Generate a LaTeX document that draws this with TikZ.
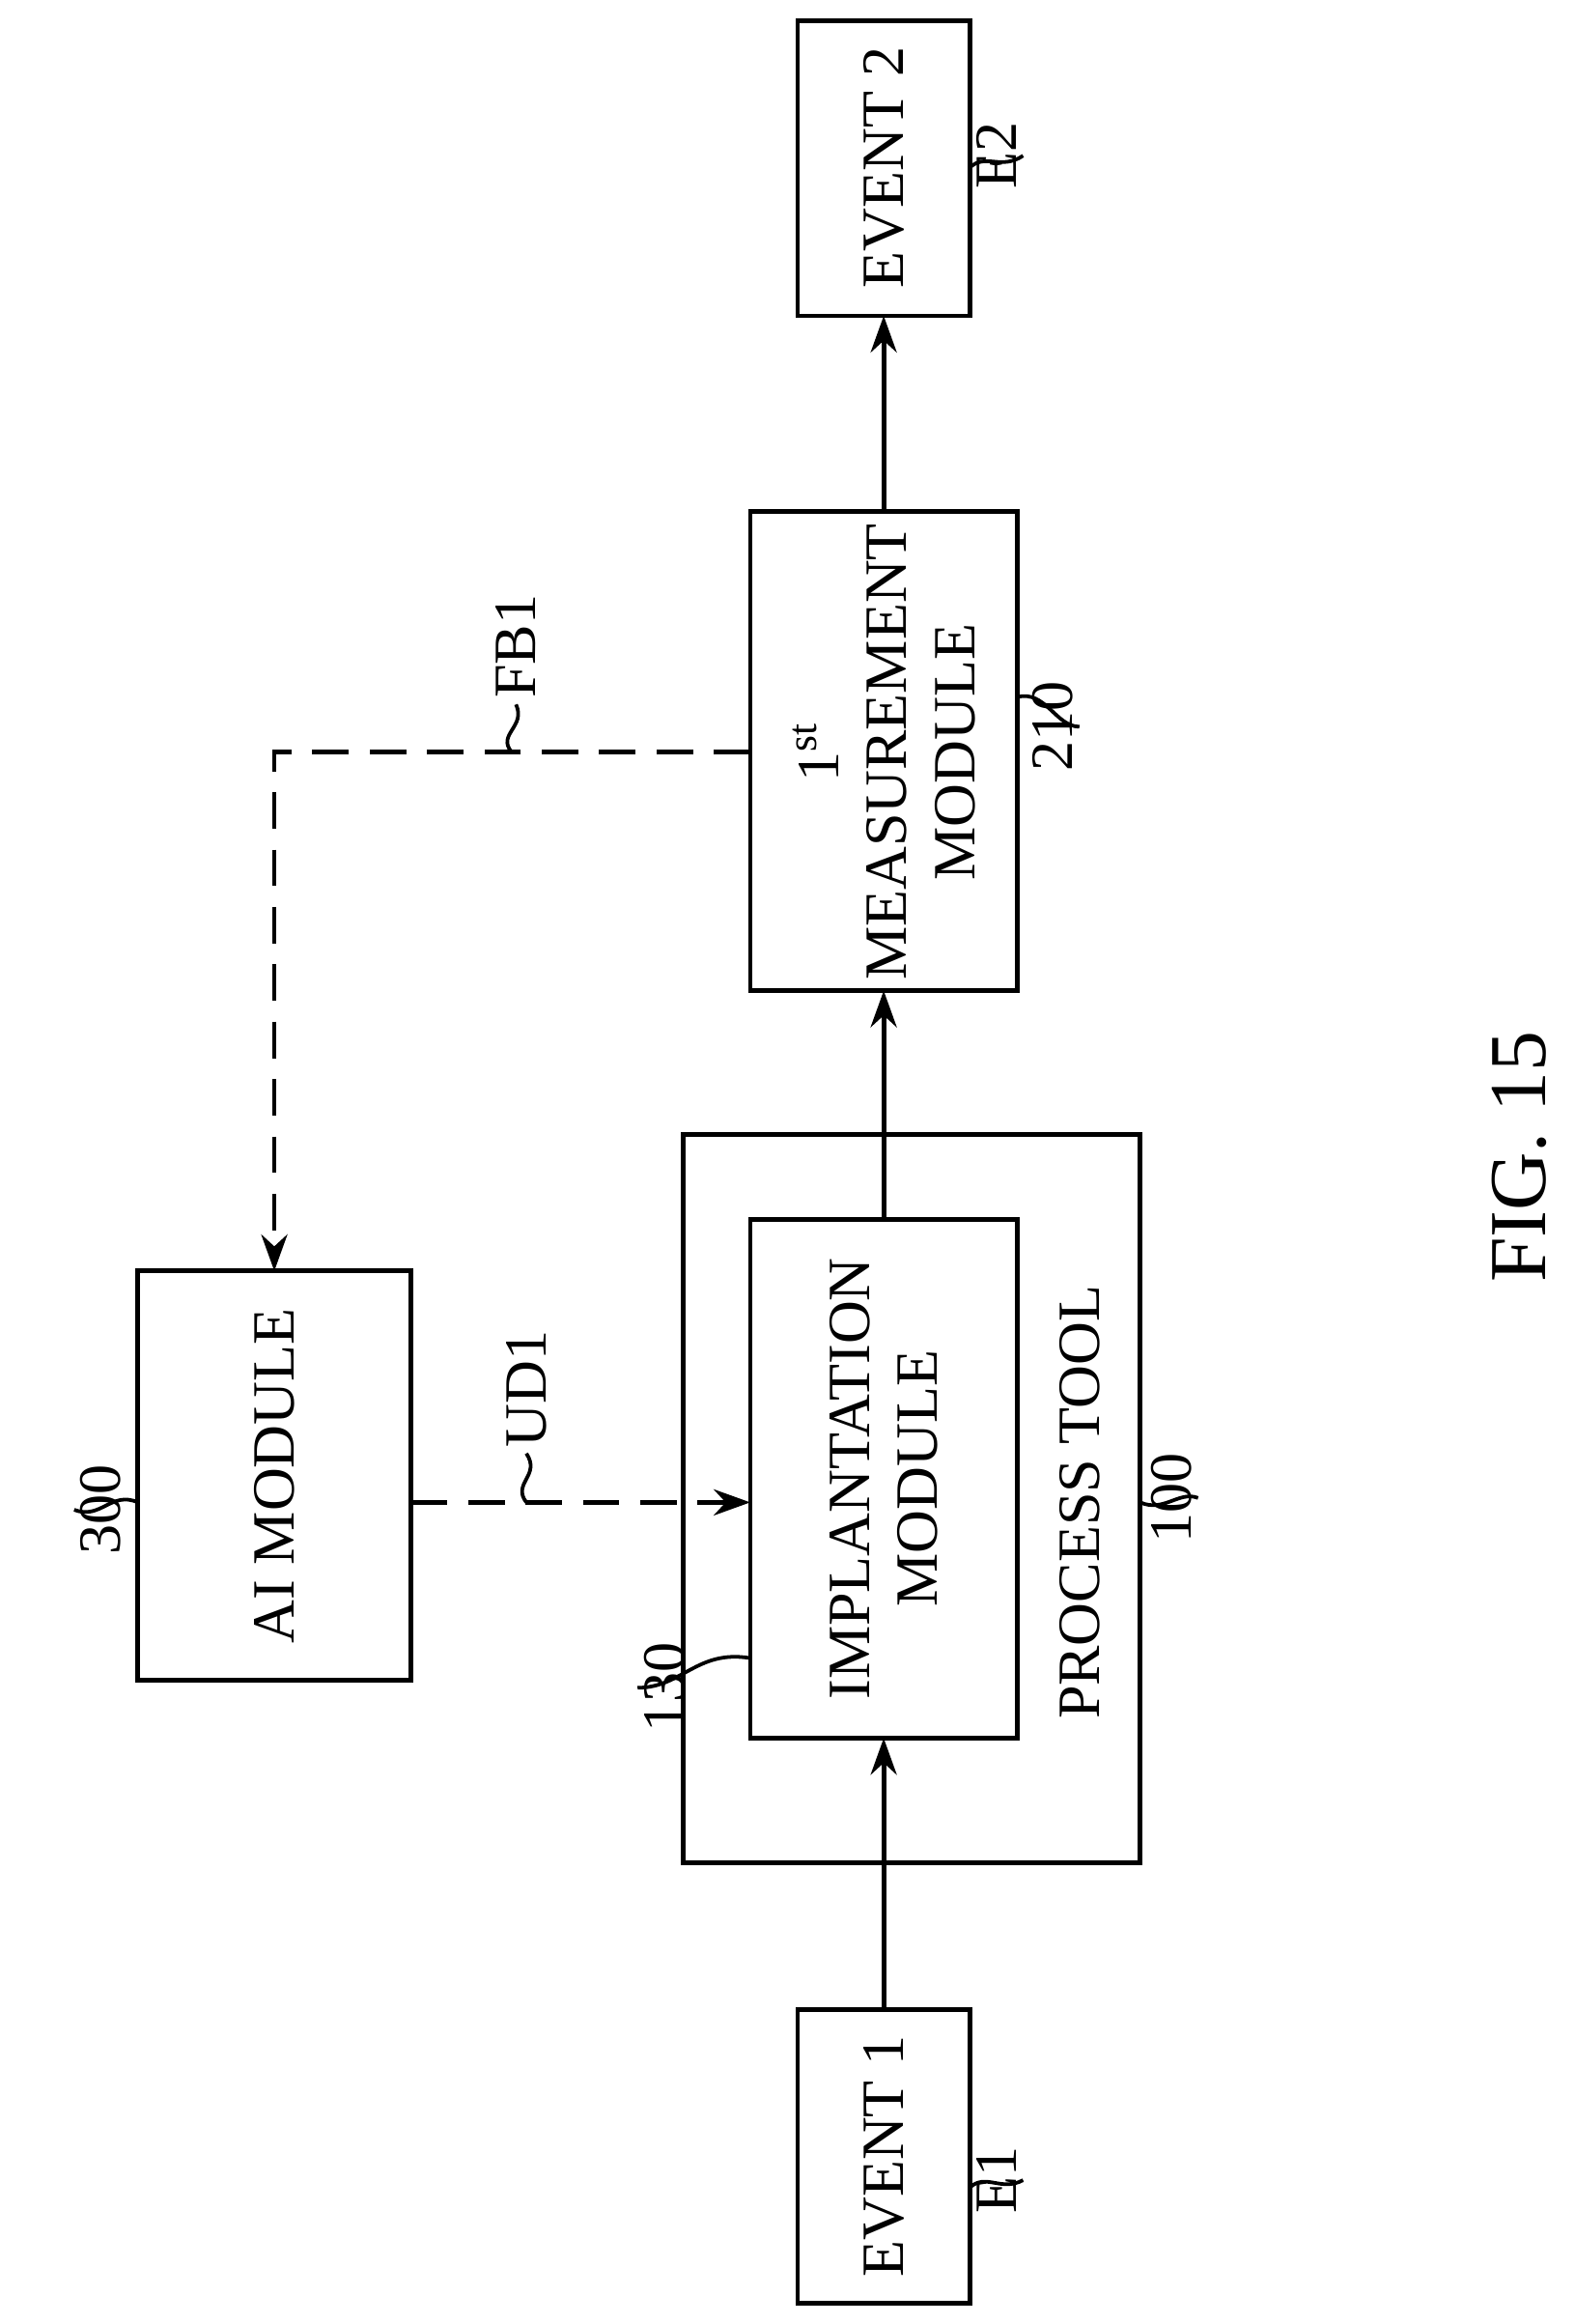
\documentclass[tikz,border=0pt]{standalone}
\usepackage{fontspec}
\setmainfont{Liberation Serif}
\usetikzlibrary{arrows.meta, positioning}

\begin{document}
\begin{tikzpicture}[x=0.01cm, y=-0.01cm,
  every node/.style={font=\fontsize{11.5}{13}\selectfont},
  flow/.style={-{Stealth[length=7pt, width=5pt]}, line width=0.9pt},
  fdash/.style={flow, dashed, dash pattern=on 7pt off 4pt},
  lead/.style={line width=0.7pt}]
  \useasboundingbox (0,0) rectangle (1062,1567);

  % Boxes
  \draw[line width=0.9pt] (538,14) rectangle (654,213);
  \node[rotate=90] (e2) at (596,113) {EVENT 2};
  \draw[line width=0.9pt] (506,345) rectangle (686,668);
  \node[rotate=90, align=center] (meas) at (596,507)
    {1\textsuperscript{st}\\MEASUREMENT\\MODULE};
  \draw[line width=0.9pt] (461,765) rectangle (769,1256);
  \node[rotate=90] (ptool) at (728,1013) {PROCESS TOOL};
  \draw[line width=0.9pt] (506,822) rectangle (686,1172);
  \node[rotate=90, align=center] (impl) at (596,997)
    {IMPLANTATION\\MODULE};
  \draw[line width=0.9pt] (93,857) rectangle (277,1133);
  \node[rotate=90] (ai) at (185,995) {AI MODULE};
  \draw[line width=0.9pt] (538,1355) rectangle (654,1553);
  \node[rotate=90] (e1) at (596,1454) {EVENT 1};

  % Connector ends
  \coordinate (e1top) at (596,1355);
  \coordinate (imbot) at (596,1172);
  \coordinate (imtop) at (596,822);
  \coordinate (mebot) at (596,668);
  \coordinate (metop) at (596,345);
  \coordinate (e2bot) at (596,213);
  \coordinate (meleft) at (506,507);
  \coordinate (corner) at (185,507);
  \coordinate (aitop) at (185,857);
  \coordinate (airight) at (277,1013);
  \coordinate (imleft) at (506,1013);

  \draw[flow] (e1top) -- (imbot);
  \draw[flow] (imtop) -- (mebot);
  \draw[flow] (metop) -- (e2bot);
  \draw[fdash] (meleft) -- (corner) -- (aitop);
  \draw[fdash] (airight) -- (imleft);

  % Reference labels
  \node[rotate=90, anchor=west, inner sep=1pt] (fb1) at (348,475) {FB1};
  \draw[lead] (345,507) .. controls (335,495) and (355,490) .. (348,475);
  \node[rotate=90, anchor=west, inner sep=1pt] (ud1) at (355,980) {UD1};
  \draw[lead] (355,1013) .. controls (345,1000) and (365,995) .. (355,980);
  \node[rotate=90, anchor=north, inner sep=1pt] (l300) at (50,1018) {300};
  \draw[lead] (93,1013) .. controls (75,1005) and (68,1025) .. (50,1018);
  \node[rotate=90, anchor=north, inner sep=1pt] (l130) at (430,1138) {130};
  \draw[lead] (506,1118) .. controls (470,1112) and (460,1138) .. (430,1138);
  \node[rotate=90, anchor=south, inner sep=1pt] (l100) at (808,1010) {100};
  \draw[lead] (769,1013) .. controls (785,1020) and (795,1005) .. (808,1010);
  \node[rotate=90, anchor=south, inner sep=1pt] (l210) at (728,490) {210};
  \draw[lead] (686,470) .. controls (705,465) and (712,490) .. (728,490);
  \node[rotate=90, anchor=south, inner sep=1pt] (le1) at (690,1470) {E1};
  \draw[lead] (654,1475) .. controls (665,1465) and (675,1478) .. (690,1470);
  \node[rotate=90, anchor=south, inner sep=1pt] (le2) at (690,105) {E2};
  \draw[lead] (654,113) .. controls (665,103) and (675,115) .. (690,105);

  \node[rotate=90, font=\fontsize{15.5}{17}\selectfont] (fig) at (1025,780) {FIG. 15};
\end{tikzpicture}
\end{document}
